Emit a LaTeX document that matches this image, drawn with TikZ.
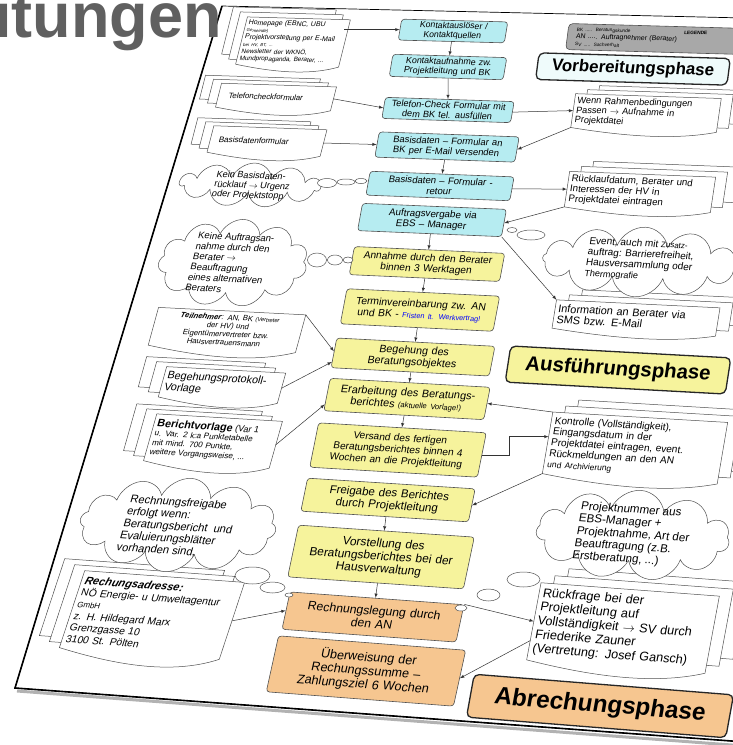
\documentclass[tikz,border=0pt]{standalone}
\usepackage{fontspec}
\setmainfont{Liberation Sans}
\usetikzlibrary{calc,shapes.symbols,backgrounds}
\definecolor{boxcyan}{HTML}{B6ECF1}
\definecolor{boxyellow}{HTML}{F6F39C}
\definecolor{boxorange}{HTML}{F6C690}
\definecolor{legendgray}{HTML}{A8A8A8}
\definecolor{phasecyan}{HTML}{EFFBFB}
\definecolor{titlegray}{HTML}{606060}
\definecolor{framegray}{HTML}{505050}
\tikzset{
  box/.style={draw=framegray,line width=0.6pt,rounded corners=3pt,align=center,inner sep=2pt,font=\fontsize{10}{10.8}\selectfont},
  cbox/.style={box,fill=boxcyan},
  ybox/.style={box,fill=boxyellow},
  obox/.style={box,fill=boxorange},
  phase/.style={draw=black!85,line width=1.3pt,rounded corners=5pt,inner sep=0pt,font=\fontsize{19}{20}\selectfont\bfseries},
  doc/.style={inner sep=3pt,align=left,font=\fontsize{10}{10.8}\selectfont},
  docline/.style={draw=framegray,line width=0.5pt,fill=white},
  bubble/.style={cloud,cloud puffs=11,cloud ignores aspect,draw=framegray,fill=white,line width=0.5pt,inner sep=0pt},
  puff/.style={draw=framegray,fill=white,line width=0.5pt},
  flow/.style={-latex,line width=0.5pt,draw=black!80},
}
% back sheets of a stack: node, dx, dy
\newcommand{\docpile}[3]{%
  \foreach \i in {2,1}{
    \filldraw[docline] ($(#1.north west)+({\i*(#2)},{\i*(#3)})$) -- ($(#1.north east)+({\i*(#2)},{\i*(#3)})$)
      -- ($(#1.south east)+({\i*(#2)},{\i*(#3)})$) -- ($(#1.south west)+({\i*(#2)},{\i*(#3)})$) -- cycle;}}
% front sheet with wavy lower edge: node, depth
\newcommand{\docsheet}[2]{%
  \filldraw[docline] (#1.south west) -- (#1.north west) -- (#1.north east) -- (#1.south east)
    .. controls ($(#1.south east)!0.3!(#1.south west)+(0,{1.6*(#2)})$) and ($(#1.south east)!0.65!(#1.south west)+(0,{1.1*(#2)})$) .. (#1.south west) -- cycle;}
\pgfdeclarelayer{background}
\pgfsetlayers{background,main}
\begin{document}
\begin{tikzpicture}[x=1pt,y=-1pt]
\useasboundingbox (0,0) rectangle (733,745);
% slide title, cut off
\node[anchor=base west,inner sep=0pt,text=titlegray,font=\fontsize{63}{63}\selectfont\bfseries] (title) at (-6,37) {itungen};
% the sheet of paper
\begin{pgfonlayer}{background}
\draw[line width=3pt,black!30] (17,691) -- (745,746);
\filldraw[fill=white,draw=black,line width=0.7pt] (222,6) -- (745,18) -- (745,742) -- (15,688) -- cycle;
\draw[line width=1.6pt] (222,6) -- (15,688) -- (745,742);
\end{pgfonlayer}

% main column
\node[cbox,rotate=-1.5,xslant=.14,scale=.87,text width=118pt,minimum height=23pt] (k1) at (453,31) {Kontaktauslöser /\\Kontaktquellen};
\node[cbox,rotate=-1.7,xslant=.14,scale=.89,text width=124pt,minimum height=25pt] (k2) at (448,67) {Kontaktaufnahme zw.\\Projektleitung und BK};
\node[cbox,rotate=-1.9,xslant=.14,scale=.92,text width=136pt,minimum height=23pt] (k3) at (448,110) {Telefon-Check Formular mit\\dem BK tel. ausfüllen};
\node[cbox,rotate=-2.05,xslant=.14,scale=.94,text width=145pt,minimum height=27pt] (k4) at (447,147) {Basisdaten – Formular an\\BK per E-Mail versenden};
\node[cbox,rotate=-2.25,xslant=.14,scale=.96,text width=146pt,minimum height=25pt] (k5) at (440,186) {Basisdaten – Formular -\\retour};
\node[cbox,rotate=-2.4,xslant=.14,scale=.98,text width=143pt,minimum height=28pt] (k6) at (432,220) {Auftragsvergabe via\\EBS – Manager};
\node[ybox,rotate=-2.6,xslant=.14,scale=1.01,text width=145pt,minimum height=28pt] (k7) at (427,264) {Annahme durch den Berater\\binnen 3 Werktagen};
\node[ybox,rotate=-2.8,xslant=.14,scale=1.04,text width=143pt,minimum height=34pt] (k8) at (420,310) {Terminvereinbarung zw. AN\\und BK - {\color{blue}\fontsize{7}{8}\selectfont Fristen lt. Werkvertrag!}};
\node[ybox,rotate=-3.0,xslant=.14,scale=1.07,text width=144pt,minimum height=28pt] (k9) at (413,357) {Begehung des\\Beratungsobjektes};
\node[ybox,rotate=-3.2,xslant=.14,scale=1.09,text width=143pt,minimum height=30pt] (k10) at (407,399) {Erarbeitung des Beratungs-\\berichtes {\fontsize{7}{8}\selectfont (aktuelle Vorlage!)}};
\node[ybox,rotate=-3.4,xslant=.14,scale=1.12,text width=146pt,minimum height=40pt,font=\fontsize{9}{10.2}\selectfont] (k11) at (398,450) {Versand des fertigen\\Beratungsberichtes binnen 4\\Wochen an die Projektleitung};
\node[ybox,rotate=-3.65,xslant=.14,scale=1.15,text width=142pt,minimum height=29pt] (k12) at (388,500) {Freigabe des Berichtes\\durch Projektleitung};
\node[ybox,rotate=-3.9,xslant=.14,scale=1.19,text width=144pt,minimum height=44pt] (k13) at (381,557) {Vorstellung des\\Beratungsberichtes bei der\\Hausverwaltung};
\node[obox,rotate=-4.2,xslant=.14,scale=1.22,text width=139pt,minimum height=31pt] (k14) at (373,617) {Rechnungslegung durch\\den AN};
\node[obox,rotate=-4.4,xslant=.14,scale=1.26,text width=145pt,minimum height=45pt] (k15) at (366,671) {Überweisung der\\Rechungssumme –\\Zahlungsziel 6 Wochen};

% phases and legend
\node[draw=framegray,fill=legendgray,line width=0.6pt,rounded corners=4pt,rotate=-1.6,xslant=.1,scale=.87,minimum width=204pt,minimum height=30pt,text width=196pt,inner sep=4pt,align=left,font=\fontsize{8}{8.6}\selectfont] (lg) at (656,39)
  {\hspace*{6pt}\makebox[150pt][l]{\fontsize{5.5}{6}\selectfont BK ..... Beratungskunde\hfill\textbf{LEGENDE}}\\
   \hspace*{6pt}AN ..... Auftragnehmer (Berater)\\
   \hspace*{6pt}{\fontsize{5.5}{6}\selectfont SV ..... Sachverhalt}};
\node[phase,fill=phasecyan,rotate=-1.7,xslant=.1,scale=.89,minimum width=215pt,minimum height=30pt] (vp) at (633,69) {Vorbereitungsphase};
\node[phase,fill=boxyellow,rotate=-3.1,xslant=.1,scale=1.07,minimum width=206pt,minimum height=34pt] (ap) at (618,370) {Ausführungsphase};
\node[phase,fill=boxorange,rotate=-4.55,xslant=.1,scale=1.275,minimum width=204pt,minimum height=34pt] (abp) at (600,706) {Abrechungsphase};

% documents on the left
\node[doc,rotate=-1.6,xslant=.22,scale=.87,text width=112pt,minimum height=50pt,font=\fontsize{8}{8.2}\selectfont] (d1) at (293,42)
  {Homepage (EBNC, UBU\\{\fontsize{5}{5}\selectfont Gemeinde)}\\Projektvorstellung per E-Mail\\{\fontsize{5}{5}\selectfont bei HV, BT, ...}\\{\fontsize{7.3}{8}\selectfont Newsletter der WKNÖ,}\\{\fontsize{7.3}{8}\selectfont Mundpropaganda, Berater, ...}};
\node[doc,rotate=-1.85,xslant=.22,scale=.91,text width=120pt,minimum height=26pt,font=\fontsize{8.6}{9}\selectfont] (d2) at (276,97) {\hspace*{8pt}Telefoncheckformular};
\node[doc,rotate=-2.05,xslant=.22,scale=.94,text width=114pt,minimum height=28pt,font=\fontsize{8.6}{9}\selectfont] (d3) at (267,141) {\hspace*{6pt}Basisdatenformular};
\node[doc,rotate=-2.9,xslant=.22,scale=1.05,text width=134pt,minimum height=36pt,align=center,font=\fontsize{7.3}{8}\selectfont] (tn) at (227,330)
  {\textbf{\textit{Teilnehmer}}: AN, BK {\fontsize{5.5}{6}\selectfont (Vertreter}\\der HV) und\\Eigentümervertreter bzw.\\Hausvertrauensmann};
\node[doc,rotate=-3.1,xslant=.22,scale=1.08,text width=104pt,minimum height=28pt] (bp) at (222,385) {Begehungsprotokoll-\\Vorlage};
\node[doc,rotate=-3.4,xslant=.22,scale=1.12,text width=106pt,minimum height=42pt,font=\fontsize{7.2}{8.2}\selectfont] (bv) at (213,441)
  {{\fontsize{9.6}{10}\selectfont\textbf{Berichtvorlage}} {\fontsize{8}{9}\selectfont (Var 1}\\u. Var. 2 k:a Punktetabelle\\mit mind. 700 Punkte,\\weitere Vorgangsweise, ...};
\node[doc,rotate=-4.2,xslant=.25,scale=1.22,text width=125pt,minimum height=64pt,font=\fontsize{8.4}{9.7}\selectfont] (ra) at (152,615)
  {{\fontsize{9}{9}\selectfont\textbf{\textit{Rechungsadresse:}}}\\NÖ Energie- u Umweltagentur\\{\fontsize{6.5}{7}\selectfont GmbH}\\z. H. Hildegard Marx\\Grenzgasse 10\\3100 St. Pölten};

% documents on the right
\node[doc,rotate=-1.9,xslant=.11,scale=.92,text width=152pt,minimum height=32pt,font=\fontsize{10}{10.6}\selectfont] (w1) at (646,113) {Wenn Rahmenbedingungen\\Passen $\rightarrow$ Aufnahme in\\Projektdatei};
\node[doc,rotate=-2.25,xslant=.11,scale=.965,text width=145pt,minimum height=34pt,font=\fontsize{10}{10.6}\selectfont] (r1) at (640,192) {Rücklaufdatum, Berater und\\Interessen der HV in\\Projektdatei eintragen};
\node[doc,rotate=-2.8,xslant=.11,scale=1.04,text width=151pt,minimum height=27pt,font=\fontsize{10.5}{10.8}\selectfont] (in1) at (636,318) {Information an Berater via\\SMS bzw. E-Mail};
\node[doc,rotate=-3.4,xslant=.11,scale=1.12,text width=150pt,minimum height=55pt,font=\fontsize{9}{9.8}\selectfont] (ko) at (635,448)
  {Kontrolle (Vollständigkeit),\\Eingangsdatum in der\\Projektdatei eintragen, event.\\Rückmeldungen an den AN\\{\fontsize{7.5}{8}\selectfont und Archivierung}};
\node[doc,rotate=-4.3,xslant=.11,scale=1.23,text width=139pt,minimum height=63pt,font=\fontsize{10.3}{11.4}\selectfont] (rf) at (623,628)
  {Rückfrage bei der\\Projektleitung auf\\Vollständigkeit $\rightarrow$ SV durch\\Friederike Zauner\\(Vertretung: Josef Gansch)};

\begin{pgfonlayer}{background}
\docpile{d1}{-7}{-5}\docsheet{d1}{6}
\docpile{d2}{-8}{-4}\docsheet{d2}{6}
\docpile{d3}{-8}{-4}\docsheet{d3}{6}
\docsheet{tn}{8}
\docpile{bp}{-10}{-5}\docsheet{bp}{7}
\docpile{bv}{-10}{-5}\docsheet{bv}{8}
\docpile{ra}{-10}{-6}\docsheet{ra}{12}
\docpile{w1}{12}{-4}\docsheet{w1}{6}
\docpile{r1}{12}{-5}\docsheet{r1}{6}
\docpile{in1}{13}{-5}\docsheet{in1}{6}
\docpile{ko}{13}{-6}\docsheet{ko}{8}
\docpile{rf}{14}{-7}\docsheet{rf}{10}
\end{pgfonlayer}

% clouds
\node[bubble,rotate=-2.2,xslant=.2,scale=.96,minimum width=146pt,minimum height=46pt] (c1) at (250,185) {};
\node[align=left,rotate=-2.2,xslant=.2,scale=.96,font=\fontsize{9.5}{10.2}\selectfont] (c1t) at (252,186) {Kein Basisdaten-\\rücklauf $\rightarrow$ Urgenz\\oder Projektstopp};
\node[bubble,rotate=-2.6,xslant=.2,minimum width=148pt,minimum height=88pt] (c2) at (233,263) {};
\node[align=left,rotate=-2.6,xslant=.2,font=\fontsize{9.5}{10.5}\selectfont] (c2t) at (230,263) {Keine Auftragsan-\\nahme durch den\\Berater $\rightarrow$\\Beauftragung\\eines alternativen\\Beraters};
\node[bubble,cloud puffs=12,rotate=-3.7,xslant=.22,scale=1.17,minimum width=167pt,minimum height=81pt] (c3) at (178,525) {};
\node[align=left,rotate=-3.7,xslant=.22,scale=1.17,font=\fontsize{9.5}{10.4}\selectfont] (c3t) at (178,527) {Rechnungsfreigabe\\erfolgt wenn:\\Beratungsbericht \ und\\Evaluierungsblätter\\vorhanden sind,};
\node[bubble,cloud puffs=12,rotate=-2.6,xslant=.11,minimum width=195pt,minimum height=70pt] (ev) at (640,262) {};
\node[align=left,rotate=-2.6,xslant=.11,font=\fontsize{10}{10.8}\selectfont] (evt) at (640,260) {Event, auch mit {\fontsize{8}{8}\selectfont Zusatz-}\\auftrag: Barrierefreiheit,\\Hausversammlung oder\\{\fontsize{9}{9}\selectfont Thermografie}};
\node[bubble,rotate=-3.8,xslant=.11,scale=1.17,minimum width=165pt,minimum height=77pt] (pn) at (633,535) {};
\node[align=left,rotate=-3.8,xslant=.11,scale=1.17,font=\fontsize{9.9}{10.6}\selectfont] (pnt) at (633,535) {Projektnummer aus\\EBS-Manager +\\Projektnahme, Art der\\Beauftragung (z.B.\\Erstberatung, ...)};

% thought bubbles
\draw[puff] (327,183) ellipse [x radius=9.5,y radius=4.5];
\draw[puff] (346,182) ellipse [x radius=9,y radius=3];
\draw[puff] (361,181) ellipse [x radius=6,y radius=2.5];
\draw[puff] (317,260) ellipse [x radius=9.5,y radius=7];
\draw[puff] (335,260) ellipse [x radius=7.5,y radius=5];
\draw[puff] (348,260) ellipse [x radius=5,y radius=3];
\draw[puff] (512,230) ellipse [x radius=5,y radius=2.5];
\draw[puff] (531,235) ellipse [x radius=14,y radius=5];
\draw[puff] (252.5,575.5) ellipse [x radius=17.5,y radius=8.5];
\draw[puff] (272.5,587.5) ellipse [x radius=12.5,y radius=5.5];
\draw[puff] (289,595) ellipse [x radius=4,y radius=2];
\draw[puff] (523.5,579.5) ellipse [x radius=16.5,y radius=7.5];
\draw[puff] (488.5,595) ellipse [x radius=11.5,y radius=6];
\draw[puff] (461,608) ellipse [x radius=6,y radius=3];

% connectors
\draw[flow] (k1.west -| d1.east) -- (k1.west);
\draw[flow] (k1) -- (k2);
\draw[flow] (k2) -- (k3);
\draw[flow] (d2.east) -- (k3.west);
\draw[flow] (k3.east) -- (w1.west);
\draw[flow] (w1.south west) -- (k4.east);
\draw[flow] (d3.east) -- (k4.west);
\draw[flow] (k4) -- (k5);
\draw[flow] (k5.east) -- (r1.west);
\draw[flow] (r1.south west) -- (k6.east);
\draw[flow] (k6.south east) -- (in1.north west);
\draw[flow] (k6) -- (k7);
\draw[flow] (k7) -- (k8);
\draw[flow] (k8) -- (k9);
\draw[flow] (tn.north east) -- ($(k9.north west)!0.45!(k9.south west)$);
\draw[flow] (bp.east) -- ($(k9.north west)!0.8!(k9.south west)$);
\draw[flow] (k9) -- (k10);
\draw[flow] (bv.east) -- ($(k10.north west)!0.8!(k10.south west)$);
\draw[flow] (k10) -- (k11);
\draw[flow] (k11.east) -- ++(27,0) |- ($(ko.north west)!0.4!(ko.south west)$);
\draw[flow] (ko.north west) -- (k10.east);
\draw[flow] (ko.south west) -- (k12.east);
\draw[flow] (k12) -- (k13);
\draw[flow] (k13) -- (k14);
\draw[flow] (ra.east) -- (k14.west);
\draw[flow] (k14.north east) -- (rf.west);
\draw[flow] ($(rf.north west)!0.75!(rf.south west)$) -- (k15.east);
\end{tikzpicture}
\end{document}
